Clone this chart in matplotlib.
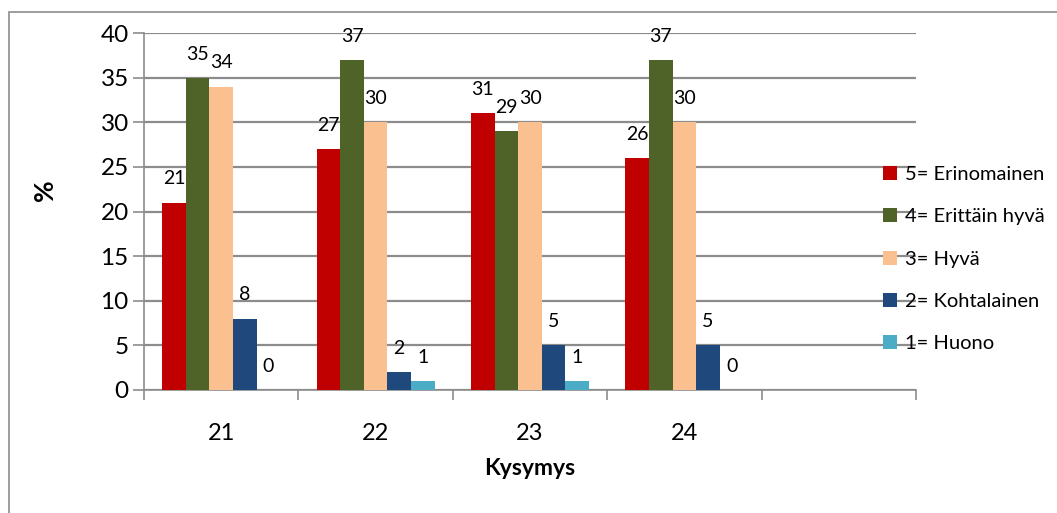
import matplotlib
matplotlib.use("Agg")
import matplotlib.pyplot as plt
from matplotlib.patches import Rectangle
import numpy as np

plt.rcParams['font.family'] = ['Lato', 'DejaVu Sans']

# data
categories = ['21', '22', '23', '24', '']
series = ['5= Erinomainen', '4= Erittäin hyvä', '3= Hyvä', '2= Kohtalainen', '1= Huono']
values = [
    [21, 27, 31, 26, np.nan],   # 5= Erinomainen
    [35, 37, 29, 37, np.nan],   # 4= Erittäin hyvä
    [34, 30, 30, 30, np.nan],   # 3= Hyvä
    [8, 2, 5, 5, np.nan],       # 2= Kohtalainen
    [0, 1, 1, 0, np.nan],       # 1= Huono
]
colors = ['#C00000', '#4F6228', '#FAC090', '#1F497D', '#4BACC6']

fig = plt.figure(figsize=(10.57, 5.13), dpi=100)
ax = fig.add_axes([144/1057, 1 - 390/513, (916-144)/1057, (390-33)/513])

# outer chart frame
fig.patches.append(Rectangle((9/1057, -0.1), 1.2, 1 - 12/513 + 0.1, transform=fig.transFigure,
                             fill=False, edgecolor='#8c8c8c', linewidth=1.2, zorder=0))

x = np.arange(len(categories))
w = 0.153
for i, (name, vals, c) in enumerate(zip(series, values, colors)):
    pos = x + (i - 2) * w
    ax.bar(pos, vals, width=w, color=c, label=name, zorder=3)
    for px, v in zip(pos, vals):
        if np.isnan(v):
            continue
        ax.annotate(f'{int(v)}', (px, v), xytext=(0, 17), textcoords='offset points',
                    ha='center', va='center', fontsize=14, zorder=4)

ax.set_ylim(0, 40)
ax.set_yticks(range(0, 41, 5))
ax.set_xlim(-0.5, len(categories) - 0.5)
ax.set_xticks(x)
ax.set_xticklabels(categories)
ax.set_xticks(np.arange(-0.5, len(categories)), minor=True)
ax.tick_params(axis='x', which='major', length=0, labelsize=17, pad=24)
ax.tick_params(axis='x', which='minor', length=7, width=1.2, color='#8c8c8c', direction='out')
ax.tick_params(axis='y', length=8, width=1.2, color='#8c8c8c', labelsize=17.5, pad=3)

ax.yaxis.grid(True, color='#8c8c8c', linewidth=1.6, zorder=1)
ax.set_axisbelow(True)
for s in ['top', 'right']:
    ax.spines[s].set_visible(False)
ax.spines['left'].set_color('#8c8c8c')
ax.spines['bottom'].set_color('#8c8c8c')
ax.spines['left'].set_linewidth(1.2)
ax.spines['bottom'].set_linewidth(1.2)

ax.set_xlabel('Kysymys', fontsize=16.5, fontweight='bold', labelpad=10)
fig.text(45/1057, 1 - 190/513, '%', rotation=90, fontsize=19, fontweight='bold',
         ha='center', va='center')

leg = ax.legend(loc='upper left', bbox_to_anchor=(875/1057, 1 - 158/513),
                bbox_transform=fig.transFigure, frameon=False, fontsize=14.5,
                handlelength=0.7, handleheight=0.7, handletextpad=0.4, labelspacing=1.25,
                borderaxespad=0)
leg.set_zorder(5)

fig.savefig('out.png', dpi=100)
